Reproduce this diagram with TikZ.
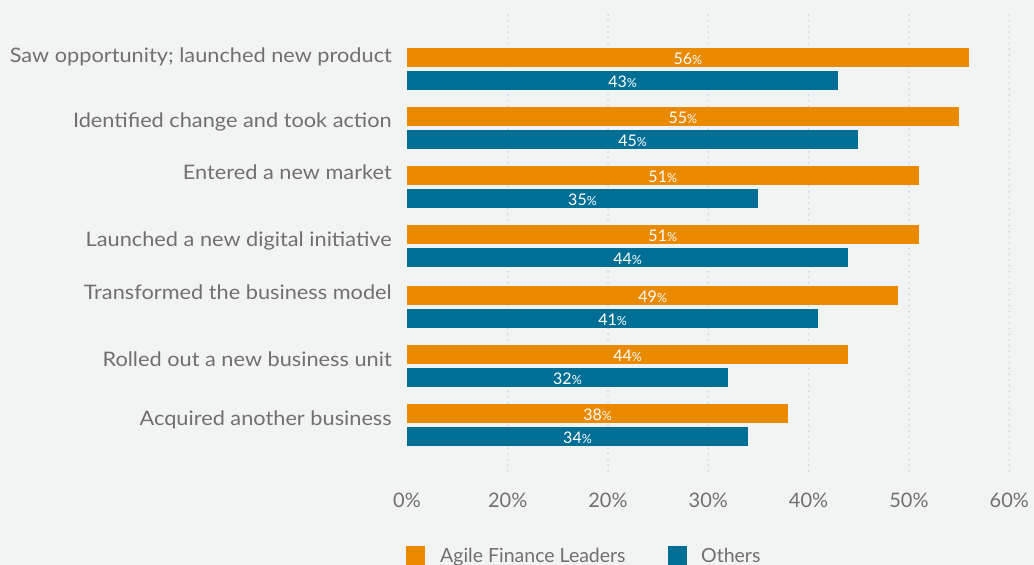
\documentclass[tikz,border=0pt]{standalone}
\usepackage{fontspec}
\setmainfont{Lato}
\newfontfamily\lblfont[FakeStretch=1.087]{Lato}
\definecolor{bg}{HTML}{F2F4F3}
\definecolor{aorange}{HTML}{E98A00}
\definecolor{ablue}{HTML}{006F96}
\definecolor{txt}{HTML}{707070}
\definecolor{gridc}{HTML}{CCD6DF}
\tikzset{
  lbl/.style={anchor=base east, inner sep=0pt, text=txt, font=\lblfont\fontsize{20}{24}\selectfont},
  axl/.style={anchor=base, inner sep=0pt, text=txt, font=\fontsize{20}{24}\selectfont},
  legl/.style={anchor=base west, inner sep=0pt, text=txt, font=\fontsize{19.5}{24}\selectfont},
  val/.style={anchor=base, inner sep=0pt, text=white, font=\fontsize{16}{18}\selectfont},
  gridline/.style={draw=gridc, line width=2pt, line cap=round, dash pattern=on 0pt off 5.7pt}
}
\newcommand{\pctsign}{{\fontsize{12.5}{14}\selectfont\%}}
\begin{document}
\begin{tikzpicture}[x=1pt,y=-1pt]
\fill[bg] (0,0) rectangle (1034,565);
\useasboundingbox (0,0) rectangle (1034,565);
% grid
\foreach \x in {507.7,608,708.3,808.6,909,1009.3}
  \draw[gridline] (\x,15) -- (\x,474);
% bars
\foreach \i/\t/\a/\b/\bl/\txt in {
  1/48/56/43/62/{Saw opportunity; launched new product},
  2/107/55/45/127/{Identified change and took action},
  3/166/51/35/179/{Entered a new market},
  4/225/51/44/246/{Launched a new digital initiative},
  5/286/49/41/299/{Transformed the business model},
  6/345/44/32/366/{Rolled out a new business unit},
  7/404/38/34/425/{Acquired another business}} {
  \pgfmathsetmacro\xa{407+\a*10.03}
  \pgfmathsetmacro\xb{407+\b*10.03}
  \fill[aorange] (407,\t) rectangle (\xa,\t+19);
  \fill[ablue] (407,\t+23) rectangle (\xb,\t+42);
  \node[val] (o\i) at ({(407+\xa)/2},\t+16.3) {\a\pctsign};
  \node[val] (b\i) at ({(407+\xb)/2},\t+39.3) {\b\pctsign};
  \node[lbl] (l\i) at (392,\bl) {\txt};
}
% axis labels
\foreach \j/\x/\s in {0/407/0,1/507.7/20,2/608/20,3/708.3/30,4/808.6/40,5/909/50,6/1009.3/60}
  \node[axl] (x\j) at (\x,507) {\s\%};
% legend
\fill[aorange] (406,546) rectangle (425,565);
\node[legl] (leg1) at (440,562) {Agile Finance Leaders};
\fill[ablue] (668,546) rectangle (687,565);
\node[legl] (leg2) at (701,562) {Others};
\end{tikzpicture}
\end{document}
